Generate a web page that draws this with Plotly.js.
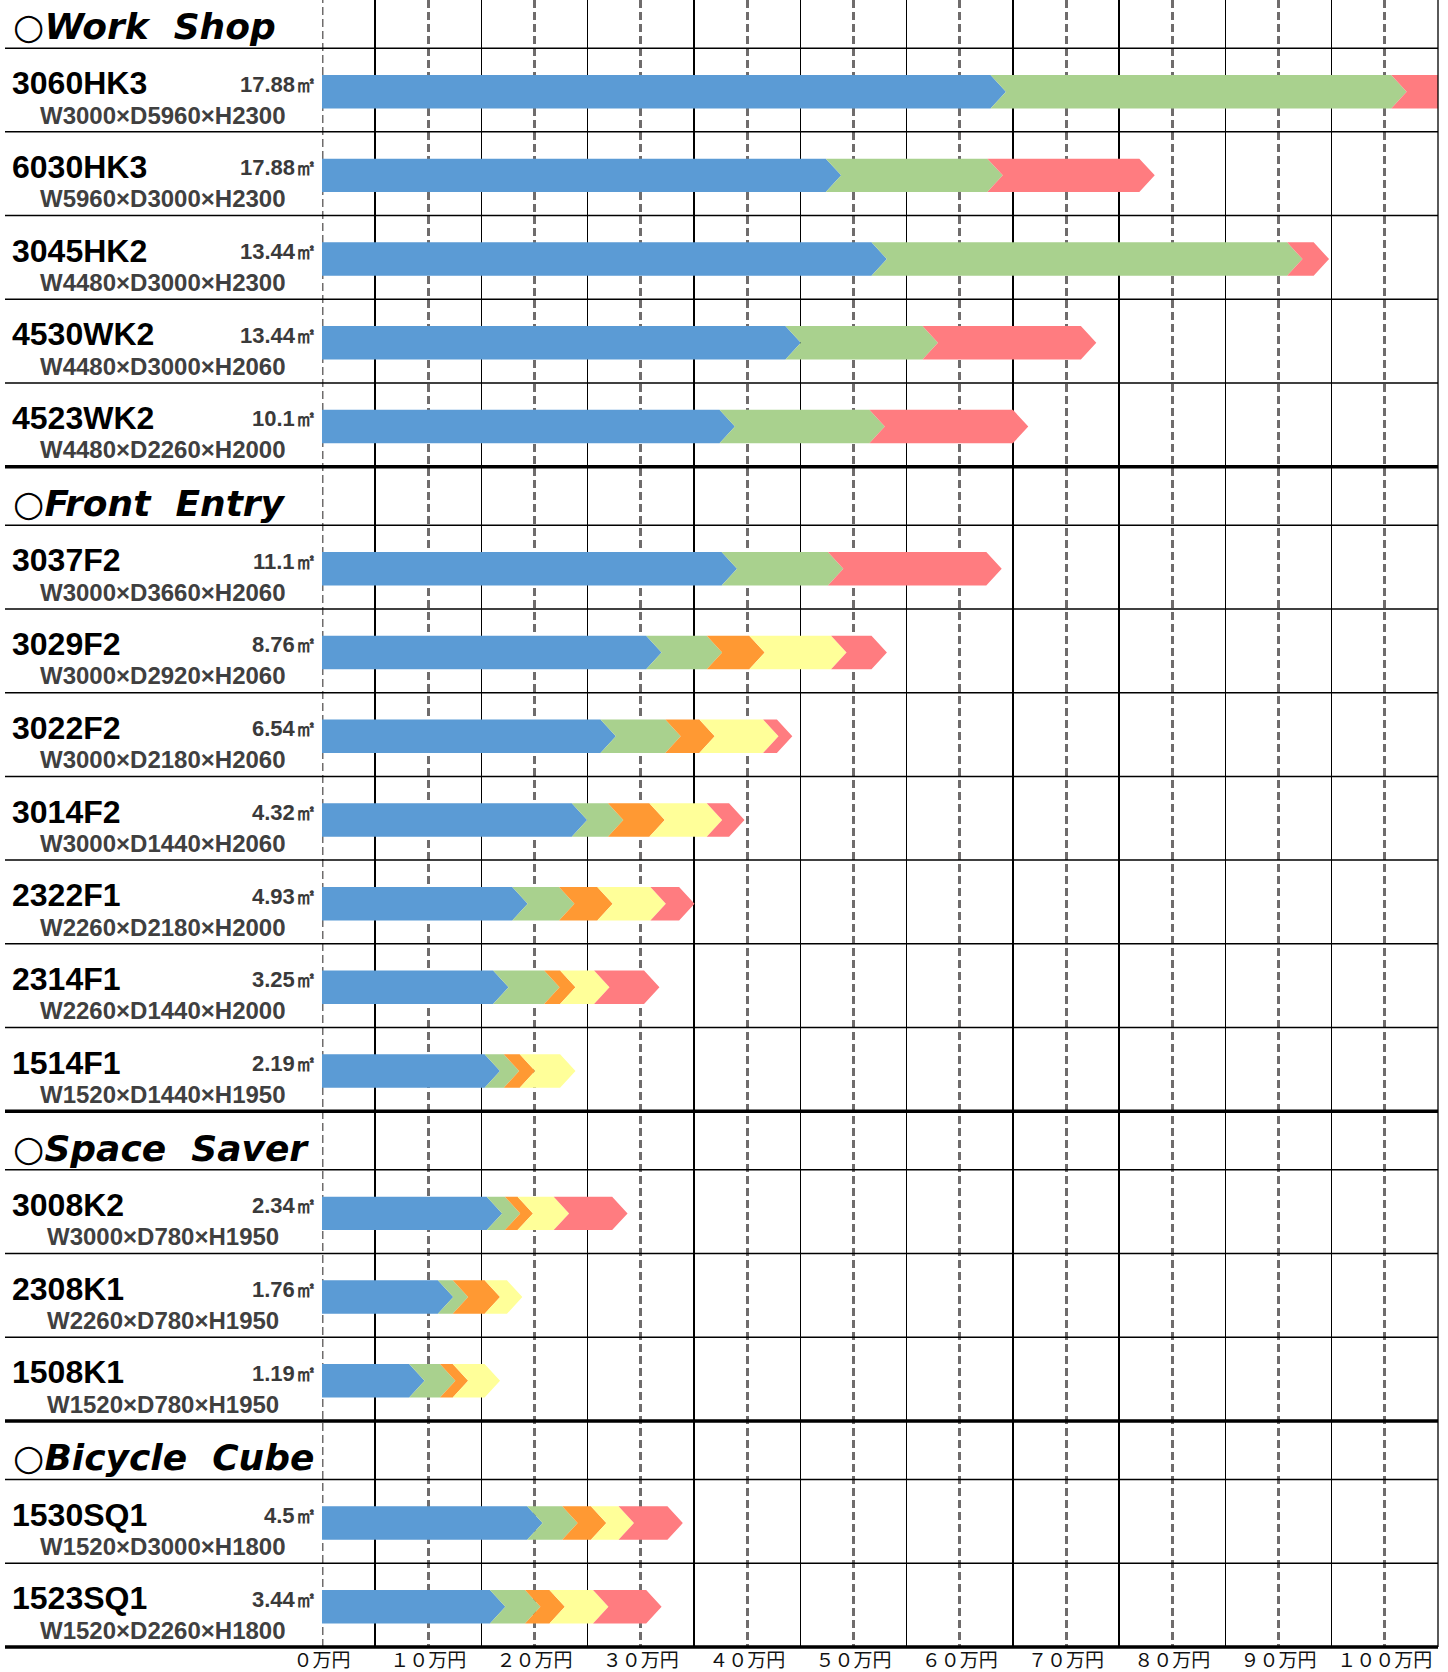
<!DOCTYPE html>
<html><head><meta charset="utf-8">
<script src="https://cdn.plot.ly/plotly-3.0.1.min.js"></script>
<style>html,body{margin:0;padding:0;background:#fff}</style>
</head><body><div id="chart" style="width:1448px;height:1672px"></div>
<script>
// ---------------- data ----------------
const sectionTitles = ['○Work\u00a0\u00a0Shop', '○Front\u00a0\u00a0Entry', '○Space\u00a0\u00a0Saver', '○Bicycle\u00a0\u00a0Cube'];
const sectionCounts = [5, 7, 3, 2];
const models = ['3060HK3','6030HK3','3045HK2','4530WK2','4523WK2',
  '3037F2','3029F2','3022F2','3014F2','2322F1','2314F1','1514F1',
  '3008K2','2308K1','1508K1',
  '1530SQ1','1523SQ1'];
const areas = ['17.88','17.88','13.44','13.44','10.1',
  '11.1','8.76','6.54','4.32','4.93','3.25','2.19',
  '2.34','1.76','1.19',
  '4.5','3.44'];
const dims = ['W3000×D5960×H2300','W5960×D3000×H2300','W4480×D3000×H2300','W4480×D3000×H2060','W4480×D2260×H2000',
  'W3000×D3660×H2060','W3000×D2920×H2060','W3000×D2180×H2060','W3000×D1440×H2060','W2260×D2180×H2000','W2260×D1440×H2000','W1520×D1440×H1950',
  'W3000×D780×H1950','W2260×D780×H1950','W1520×D780×H1950',
  'W1520×D3000×H1800','W1520×D2260×H1800'];
// segment amounts (万円)
const blueSeg   = [62.9, 47.4, 51.7, 43.6, 37.4, 37.6, 30.5, 26.2, 23.5, 17.9, 16.1, 15.3, 15.5, 10.9, 8.2, 19.3, 15.8];
const greenSeg  = [37.7, 15.2, 39.1, 12.9, 14.1, 10.0, 5.7, 6.1, 3.4, 4.4, 4.8, 1.8, 1.7, 1.4, 2.9, 3.3, 3.3];
const orangeSeg = [0, 0, 0, 0, 0, 0, 4.0, 3.2, 3.9, 3.6, 1.5, 1.5, 1.2, 3.0, 1.2, 2.7, 2.3];
const yellowSeg = [0, 0, 0, 0, 0, 0, 7.7, 6.0, 5.4, 5.0, 3.2, 3.8, 3.4, 2.1, 3.0, 2.6, 4.1];
const redSeg    = [6.4, 14.3, 2.5, 14.9, 13.5, 14.9, 3.8, 1.3, 2.1, 2.7, 4.7, 0, 5.5, 0, 0, 4.6, 5.0];
const tickValues = [0,10,20,30,40,50,60,70,80,90,100];
const tickLabels = ['０万円','１０万円','２０万円','３０万円','４０万円','５０万円','６０万円','７０万円','８０万円','９０万円','１００万円'];

// ---------------- styles ----------------
const series = [
  {vals: blueSeg,   color: '#5B9BD5'},
  {vals: greenSeg,  color: '#A9D18E'},
  {vals: orangeSeg, color: '#FF9933'},
  {vals: yellowSeg, color: '#FFFF99'},
  {vals: redSeg,    color: '#FF7C80'}
];
const W = 1448, H = 1672, ML = 322, MR = 10, MT = 0, MB = 25;
const HEADER_H = 0.7, ROW_H = 1, TOP_CROP = 0.125;
const BAR_C = 0.52, BAR_HH = 0.2, TIP = 1.45;
const GRID_DASH = '8px,4px', GRID_COLOR = '#6f6c6c', GRID_W = 3;
const plotW = W - ML - MR;
const toPaperX = px => (px - ML) / plotW;

// ---------------- row positions ----------------
let u = 0;
const rowTop = [], headerTop = [], sectionEnd = [];
sectionCounts.forEach(n => {
  headerTop.push(u); u += HEADER_H;
  for (let i = 0; i < n; i++) { rowTop.push(u); u += ROW_H; }
  sectionEnd.push(u);
});
const totalU = u;
const toPaperY = v => 1 - (v - TOP_CROP) / (totalU - TOP_CROP);

// ---------------- bar traces (chevrons) ----------------
const traces = series.map((s, k) => {
  const xs = [], ys = [];
  models.forEach((m, r) => {
    const v = s.vals[r];
    if (!v) return;
    let start = 0;
    for (let j = 0; j < k; j++) start += series[j].vals[r];
    const end = start + v;
    const yc = rowTop[r] + BAR_C, yt = yc - BAR_HH, yb = yc + BAR_HH;
    let first = true;
    for (let j = 0; j < k; j++) if (series[j].vals[r]) first = false;
    xs.push(start, end, end + TIP, end, start);
    ys.push(yt, yt, yc, yb, yb);
    if (!first) { xs.push(start + TIP); ys.push(yc); }
    xs.push(null); ys.push(null);
  });
  return {type: 'scatter', mode: 'lines', x: xs, y: ys, fill: 'toself',
    fillcolor: s.color, line: {width: 0, color: s.color}, hoverinfo: 'skip', showlegend: false};
});

// ---------------- shapes ----------------
const shapes = [];
// dashed line at 0 (edge gridline)
shapes.push({type: 'line', xref: 'x', yref: 'paper', x0: 0, x1: 0, y0: 0, y1: 1, layer: 'below',
  line: {color: GRID_COLOR, width: GRID_W, dash: GRID_DASH}});
const hLine = (v, w) => shapes.push({type: 'line', xref: 'paper', yref: 'paper',
  x0: toPaperX(5), x1: 1, y0: toPaperY(v), y1: toPaperY(v), line: {color: '#000', width: w}});
headerTop.forEach((t, i) => {
  hLine(t + HEADER_H, 1.5);
  hLine(sectionEnd[i], 3.5);
});
rowTop.forEach((t, r) => {
  const isEnd = sectionEnd.some(e => Math.abs(e - (t + ROW_H)) < 1e-9);
  if (!isEnd) hLine(t + ROW_H, 1.5);
});
shapes.push({type: 'line', xref: 'paper', yref: 'paper', x0: 1, x1: 1, y0: 0, y1: 1,
  line: {color: '#000', width: 1.3}});

// ---------------- annotations ----------------
const annotations = [];
const FONT_LAT = 'Liberation Sans, Arial, sans-serif';
sectionTitles.forEach((t, i) => {
  annotations.push({xref: 'paper', yref: 'y', x: toPaperX(11), y: headerTop[i] + 0.44,
    xanchor: 'left', yanchor: 'middle', showarrow: false, text: t,
    font: {family: 'DejaVu Sans, sans-serif', size: 36, color: '#000', weight: 'bold', style: 'italic'}});
});
models.forEach((m, r) => {
  annotations.push({xref: 'paper', yref: 'y', x: toPaperX(10), y: rowTop[r] + 0.42,
    xanchor: 'left', yanchor: 'middle', showarrow: false, text: m,
    font: {family: FONT_LAT, size: 32, color: '#000', weight: 'bold'}});
  annotations.push({xref: 'paper', yref: 'y', x: toPaperX(319), y: rowTop[r] + 0.43,
    xanchor: 'right', yanchor: 'middle', showarrow: false, text: areas[r] + '㎡',
    font: {family: FONT_LAT, size: 22, color: '#3a3a3a', weight: 'bold'}});
  annotations.push({xref: 'paper', yref: 'y', x: toPaperX(163), y: rowTop[r] + 0.8,
    xanchor: 'center', yanchor: 'middle', showarrow: false, text: dims[r],
    font: {family: FONT_LAT, size: 24, color: '#404040', weight: 'bold'}});
});

const layout = {
  width: W, height: H,
  margin: {l: ML, r: MR, t: MT, b: MB},
  paper_bgcolor: '#fff', plot_bgcolor: '#fff',
  showlegend: false,
  xaxis: {range: [0, 105], tickmode: 'array', tickvals: tickValues, ticktext: tickLabels,
    showgrid: true, gridcolor: GRID_COLOR, gridwidth: GRID_W, griddash: GRID_DASH,
    zeroline: false, showline: false, ticks: '', fixedrange: true, ticklabelstandoff: 0,
    tickfont: {family: 'Noto Sans CJK JP, sans-serif', size: 19, color: '#111'},
    minor: {tickmode: 'linear', tick0: 5, dtick: 10, showgrid: true, gridcolor: '#000',
      gridwidth: 1.3, griddash: 'solid', ticks: ''}},
  yaxis: {range: [totalU, TOP_CROP], showgrid: false, zeroline: false, showticklabels: false,
    ticks: '', fixedrange: true},
  shapes: shapes,
  annotations: annotations
};
Plotly.newPlot('chart', traces, layout, {staticPlot: true, displayModeBar: false});
</script></body></html>
